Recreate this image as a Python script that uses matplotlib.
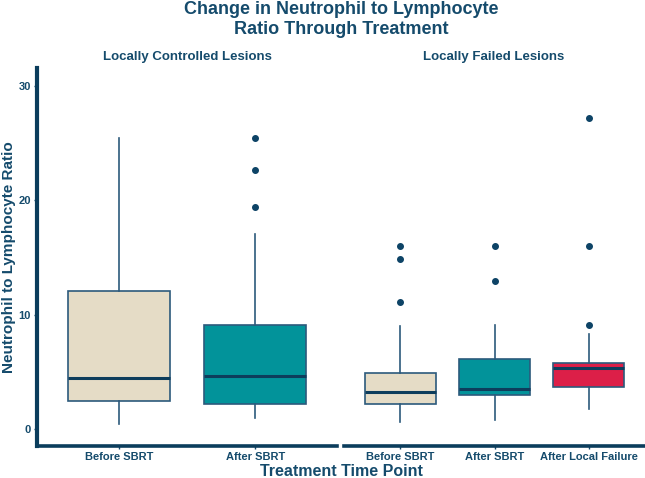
import matplotlib
matplotlib.use("Agg")
import matplotlib.pyplot as plt

plt.rcParams['font.family'] = ['Liberation Sans', 'DejaVu Sans']

navy = "#154B6C"
edge = "#2C5A7C"

# box statistics
lc_labels = ["Before SBRT", "After SBRT"]
lc_wlo = [0.50, 1.02]
lc_q1 = [2.45, 2.21]
lc_med = [4.49, 4.64]
lc_q3 = [12.07, 9.13]
lc_whi = [25.43, 17.06]
lc_out = [[], [25.43, 22.66, 19.45]]
lc_colors = ["#E5DCC6", "#02939A"]

lf_labels = ["Before SBRT", "After SBRT", "After Local Failure"]
lf_wlo = [0.64, 0.79, 1.75]
lf_q1 = [2.25, 3.00, 3.72]
lf_med = [3.30, 3.50, 5.35]
lf_q3 = [4.96, 6.11, 5.83]
lf_whi = [9.00, 9.15, 8.37]
lf_out = [[16.01, 14.87, 11.14], [16.01, 13.00], [27.18, 16.01, 9.12]]
lf_colors = ["#E5DCC6", "#02939A", "#DC1F48"]

panel_titles = ["Locally Controlled Lesions", "Locally Failed Lesions"]


def stats(labels, wlo, q1, med, q3, whi, out):
    return [dict(label=l, whislo=a, q1=b, med=c, q3=d, whishi=e, fliers=f)
            for l, a, b, c, d, e, f in zip(labels, wlo, q1, med, q3, whi, out)]


fig = plt.figure(figsize=(6.45, 4.78), dpi=100)
ax1 = fig.add_axes([37/645, 32/478, 300/645, 378/478])
ax2 = fig.add_axes([344/645, 32/478, 301/645, 378/478])

panels = [
    (ax1, stats(lc_labels, lc_wlo, lc_q1, lc_med, lc_q3, lc_whi, lc_out), lc_colors),
    (ax2, stats(lf_labels, lf_wlo, lf_q1, lf_med, lf_q3, lf_whi, lf_out), lf_colors),
]

for ax, st, cols in panels:
    n = len(st)
    bp = ax.bxp(st, positions=range(1, n + 1), widths=0.75, patch_artist=True,
                showcaps=False,
                boxprops=dict(edgecolor=edge, linewidth=1.2),
                whiskerprops=dict(color=edge, linewidth=1.2),
                medianprops=dict(color="#0D3D5C", linewidth=2.2),
                flierprops=dict(marker="o", markersize=4, markerfacecolor="#0D4366",
                                markeredgecolor="#0D4366"))
    for patch, c in zip(bp["boxes"], cols):
        patch.set_facecolor(c)
    ax.set_xlim(0.4, n + 0.6)
    ax.set_ylim(-1.46, 31.58)
    for s in ["top", "right"]:
        ax.spines[s].set_visible(False)
    ax.spines["bottom"].set_color("#0B3D5C")
    ax.spines["bottom"].set_linewidth(2.6)
    ax.tick_params(axis="x", colors=navy, length=2.5, width=1, pad=2)
    for lab in ax.get_xticklabels():
        lab.set_fontsize(8)
        lab.set_fontweight("bold")
        lab.set_color(navy)

ax1.spines["left"].set_color("#0B3D5C")
ax1.spines["left"].set_linewidth(3)
ax1.set_yticks([0, 10, 20, 30])
ax1.tick_params(axis="y", colors=navy, length=2.5, width=1, pad=2, labelsize=8)
for lab in ax1.get_yticklabels():
    lab.set_fontweight("bold")
ax1.set_ylabel("Neutrophil to Lymphocyte Ratio", fontsize=11, fontweight="bold",
               color=navy, va="center")
ax1.yaxis.set_label_coords(-28/300, 0.5)

ax2.spines["left"].set_visible(False)
ax2.set_yticks([])

fig.text(341/645, 1 - 1.5/478, "Change in Neutrophil to Lymphocyte\nRatio Through Treatment",
         ha="center", va="top", fontsize=13, fontweight="bold", color=navy, linespacing=1.2)
fig.text(187/645, 1 - 57/478, panel_titles[0], ha="center", va="center",
         fontsize=9.5, fontweight="bold", color=navy)
fig.text(494/645, 1 - 57/478, panel_titles[1], ha="center", va="center",
         fontsize=9.5, fontweight="bold", color=navy)
fig.text(341/645, 1 - 471/478, "Treatment Time Point", ha="center", va="center",
         fontsize=11.5, fontweight="bold", color=navy)

fig.savefig("out.png", dpi=100)
